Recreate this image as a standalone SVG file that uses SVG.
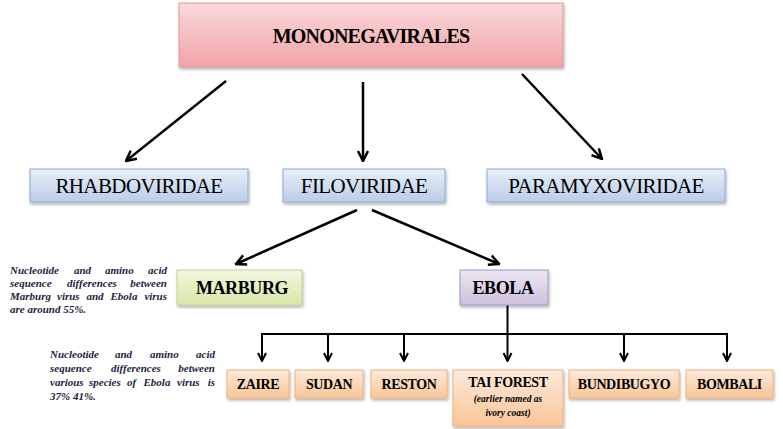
<svg xmlns="http://www.w3.org/2000/svg" width="783" height="429" viewBox="0 0 783 429">
<defs>
<linearGradient id="gPink" x1="0" y1="0" x2="0" y2="1"><stop offset="0" stop-color="#fbd9db"/><stop offset="1" stop-color="#f0a3a7"/></linearGradient>
<linearGradient id="gBlue" x1="0" y1="0" x2="0" y2="1"><stop offset="0" stop-color="#e8eff9"/><stop offset="1" stop-color="#b9cde6"/></linearGradient>
<linearGradient id="gGreen" x1="0" y1="0" x2="0" y2="1"><stop offset="0" stop-color="#f2f7df"/><stop offset="1" stop-color="#d8e6a8"/></linearGradient>
<linearGradient id="gPurple" x1="0" y1="0" x2="0" y2="1"><stop offset="0" stop-color="#ece5f2"/><stop offset="1" stop-color="#cdc1dc"/></linearGradient>
<linearGradient id="gOrange" x1="0" y1="0" x2="0" y2="1"><stop offset="0" stop-color="#fdeadb"/><stop offset="1" stop-color="#f9c597"/></linearGradient>
<filter id="sh" x="-10%" y="-20%" width="120%" height="150%"><feDropShadow dx="1" dy="2" stdDeviation="1.5" flood-color="#000" flood-opacity="0.3"/></filter>
<marker id="ah" viewBox="0 0 10 10" refX="9" refY="5" markerWidth="5" markerHeight="5" orient="auto" markerUnits="strokeWidth"><path d="M1,1 L9,5 L1,9" fill="none" stroke="#000" stroke-width="2"/></marker>
</defs>
<style>
.bx{stroke-width:1}
.pink{fill:url(#gPink);stroke:#dc9a9b}
.blue{fill:url(#gBlue);stroke:#8eabd3}
.green{fill:url(#gGreen);stroke:#c2d493}
.purple{fill:url(#gPurple);stroke:#a996c0}
.orange{fill:url(#gOrange);stroke:#f2b07c}
text{font-family:'Liberation Serif','DejaVu Serif',serif}
.t{fill:#000;text-anchor:middle}
.top{font-size:20px;font-weight:bold;letter-spacing:-0.8px}
.mid{font-size:21px;letter-spacing:-0.6px}
.sub{font-size:18px;font-weight:bold;letter-spacing:-0.4px}
.leaf{font-size:14px;font-weight:bold;letter-spacing:-0.4px}
.it{font-size:9.5px;font-weight:bold;font-style:italic}
.note{font-size:11px;font-weight:bold;font-style:italic;fill:#1c2340}
.ln{stroke:#000;fill:none}
.thick{stroke-width:2.5}
.thin{stroke-width:2}
</style>
<g id="connectors">
<line class="ln thick" x1="226" y1="81" x2="126" y2="161" marker-end="url(#ah)"/>
<line class="ln thick" x1="363" y1="82" x2="363" y2="161" marker-end="url(#ah)"/>
<line class="ln thick" x1="522" y1="74" x2="602" y2="159" marker-end="url(#ah)"/>
<line class="ln thick" x1="357" y1="210" x2="236" y2="264" marker-end="url(#ah)"/>
<line class="ln thick" x1="372" y1="210" x2="499" y2="264" marker-end="url(#ah)"/>
<line class="ln thin" x1="507.5" y1="305" x2="507.5" y2="334"/>
<line class="ln thin" x1="261" y1="334" x2="728" y2="334"/>
<line class="ln thin" x1="262" y1="334" x2="262" y2="361" marker-end="url(#ah)"/>
<line class="ln thin" x1="328" y1="334" x2="328" y2="361" marker-end="url(#ah)"/>
<line class="ln thin" x1="404" y1="334" x2="404" y2="361" marker-end="url(#ah)"/>
<line class="ln thin" x1="507.5" y1="334" x2="507.5" y2="361" marker-end="url(#ah)"/>
<line class="ln thin" x1="624" y1="334" x2="624" y2="361" marker-end="url(#ah)"/>
<line class="ln thin" x1="727" y1="334" x2="727" y2="361" marker-end="url(#ah)"/>
</g>
<g id="mononegavirales">
<rect class="bx pink" x="179" y="3" width="384" height="64" filter="url(#sh)"/>
<text class="t top" x="371" y="43" font-family="Liberation Serif, DejaVu Serif, serif">MONONEGAVIRALES</text>
</g>
<g id="rhabdoviridae">
<rect class="bx blue" x="30" y="169" width="218" height="33" filter="url(#sh)"/>
<text class="t mid" x="139" y="193" font-family="Liberation Serif, DejaVu Serif, serif">RHABDOVIRIDAE</text>
</g>
<g id="filoviridae">
<rect class="bx blue" x="283" y="169" width="162" height="33" filter="url(#sh)"/>
<text class="t mid" x="364" y="193" font-family="Liberation Serif, DejaVu Serif, serif">FILOVIRIDAE</text>
</g>
<g id="paramyxoviridae">
<rect class="bx blue" x="487" y="169" width="238" height="33" filter="url(#sh)"/>
<text class="t mid" x="606" y="193" font-family="Liberation Serif, DejaVu Serif, serif">PARAMYXOVIRIDAE</text>
</g>
<g id="marburg">
<rect class="bx green" x="177" y="270" width="125" height="35" filter="url(#sh)"/>
<text class="t sub" x="242" y="294" font-family="Liberation Serif, DejaVu Serif, serif">MARBURG</text>
</g>
<g id="ebola">
<rect class="bx purple" x="460" y="270" width="88" height="35" filter="url(#sh)"/>
<text class="t sub" x="503" y="294" font-family="Liberation Serif, DejaVu Serif, serif">EBOLA</text>
</g>
<g id="zaire">
<rect class="bx orange" x="227" y="370" width="62" height="28" filter="url(#sh)"/>
<text class="t leaf" x="258" y="389" font-family="Liberation Serif, DejaVu Serif, serif">ZAIRE</text>
</g>
<g id="sudan">
<rect class="bx orange" x="295" y="370" width="68" height="28" filter="url(#sh)"/>
<text class="t leaf" x="329" y="389" font-family="Liberation Serif, DejaVu Serif, serif">SUDAN</text>
</g>
<g id="reston">
<rect class="bx orange" x="371" y="370" width="76" height="28" filter="url(#sh)"/>
<text class="t leaf" x="409" y="389" font-family="Liberation Serif, DejaVu Serif, serif">RESTON</text>
</g>
<g id="taiforest">
<rect class="bx orange" x="453" y="370" width="110" height="56" filter="url(#sh)"/>
<text class="t leaf" x="508" y="387" font-family="Liberation Serif, DejaVu Serif, serif">TAI FOREST</text>
<text class="t it" x="508" y="402" font-family="Liberation Serif, DejaVu Serif, serif">(earlier named as</text>
<text class="t it" x="508" y="416" font-family="Liberation Serif, DejaVu Serif, serif">ivory coast)</text>
</g>
<g id="bundibugyo">
<rect class="bx orange" x="569" y="370" width="110" height="28" filter="url(#sh)"/>
<text class="t leaf" x="624" y="389" font-family="Liberation Serif, DejaVu Serif, serif">BUNDIBUGYO</text>
</g>
<g id="bombali">
<rect class="bx orange" x="686" y="370" width="87" height="28" filter="url(#sh)"/>
<text class="t leaf" x="729.5" y="389" font-family="Liberation Serif, DejaVu Serif, serif">BOMBALI</text>
</g>
<g id="note1" font-family="Liberation Serif, DejaVu Serif, serif">
<text class="note" y="274"><tspan x="10">Nucleotide</tspan> <tspan x="74">and</tspan> <tspan x="105">amino</tspan> <tspan x="148">acid</tspan></text>
<text class="note" y="287"><tspan x="10">sequence</tspan> <tspan x="67">differences</tspan> <tspan x="130.3">between</tspan></text>
<text class="note" y="300"><tspan x="10">Marburg</tspan> <tspan x="57">virus</tspan> <tspan x="86.5">and</tspan> <tspan x="110.5">Ebola</tspan> <tspan x="144.4">virus</tspan></text>
<text class="note" x="10" y="313">are around 55%.</text>
</g>
<g id="note2" font-family="Liberation Serif, DejaVu Serif, serif">
<text class="note" y="358"><tspan x="50">Nucleotide</tspan> <tspan x="115">and</tspan> <tspan x="150">amino</tspan> <tspan x="196">acid</tspan></text>
<text class="note" y="372"><tspan x="50">sequence</tspan> <tspan x="111">differences</tspan> <tspan x="178.3">between</tspan></text>
<text class="note" y="386"><tspan x="50">various</tspan> <tspan x="89">species</tspan> <tspan x="127">of</tspan> <tspan x="143.5">Ebola</tspan> <tspan x="177">virus</tspan> <tspan x="207.7">is</tspan></text>
<text class="note" x="50" y="400">37% 41%.</text>
</g>
</svg>
